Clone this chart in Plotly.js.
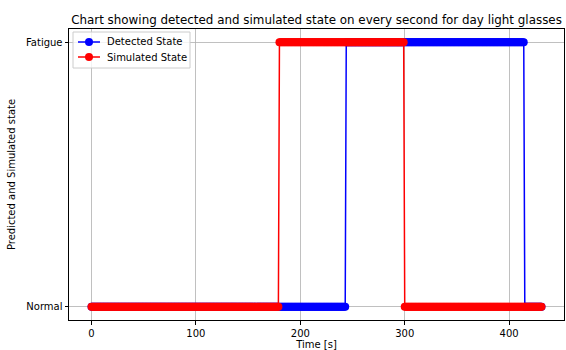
<!DOCTYPE html>
<html>
<head>
<meta charset="utf-8">
<script src="https://cdn.plot.ly/plotly-3.0.1.min.js"></script>
<style>
  html, body { margin: 0; padding: 0; background: #ffffff; }
  #chart { width: 566px; height: 350px; }
</style>
</head>
<body>
<div id="chart"></div>
<script>
// ---- data (state per second, stored as run-lengths) ----
const stateLabels = ['Normal', 'Fatigue'];
const lastSecond = 431;
const detectedChangeTimes = [0, 244, 415];
const detectedStates = ['Normal', 'Fatigue', 'Normal'];
const simulatedChangeTimes = [0, 180, 300];
const simulatedStates = ['Normal', 'Fatigue', 'Normal'];
const xTickValues = [0, 100, 200, 300, 400];
const seriesNames = ['Detected State', 'Simulated State'];
const seriesColors = ['#0000ff', '#ff0000'];

function expandRuns(changeTimes, states) {
  const t = [], s = [];
  for (let sec = 0; sec <= lastSecond; sec++) {
    let idx = 0;
    for (let k = 0; k < changeTimes.length; k++) if (sec >= changeTimes[k]) idx = k;
    t.push(sec);
    s.push(states[idx]);
  }
  return { t, s };
}

const detected = expandRuns(detectedChangeTimes, detectedStates);
const simulated = expandRuns(simulatedChangeTimes, simulatedStates);

const font = 'DejaVu Sans, sans-serif';
const pad = 0.05 * lastSecond;

const traces = [detected, simulated].map((d, i) => ({
  x: d.t, y: d.s, name: seriesNames[i],
  type: 'scatter', mode: 'lines+markers',
  line: { color: seriesColors[i], width: 1.5 },
  marker: { color: seriesColors[i], size: 8 },
  showlegend: false
}));

// plot-area geometry for the hand-drawn (matplotlib-like) legend
const W = 566, H = 350, mL = 69, mR = 2, mT = 29, mB = 30;
const pw = W - mL - mR, ph = H - mT - mB;
const px = v => (v - mL) / pw;
const py = v => (H - mB - v) / ph;

const shapes = [{
  type: 'rect', xref: 'paper', yref: 'paper', layer: 'above',
  x0: px(73), x1: px(190), y0: py(68), y1: py(32),
  fillcolor: 'rgba(255,255,255,0.8)', line: { color: '#cccccc', width: 1 }
}];
const annotations = [];
seriesNames.forEach((name, i) => {
  const yc = 42 + i * 15;
  shapes.push({
    type: 'line', xref: 'paper', yref: 'paper', layer: 'above',
    x0: px(78), x1: px(100), y0: py(yc), y1: py(yc),
    line: { color: seriesColors[i], width: 1.5 }
  });
  shapes.push({
    type: 'circle', xref: 'paper', yref: 'paper', layer: 'above',
    x0: px(85), x1: px(93), y0: py(yc + 4), y1: py(yc - 4),
    fillcolor: seriesColors[i], line: { color: seriesColors[i], width: 0 }
  });
  annotations.push({
    text: name, xref: 'paper', yref: 'paper', x: px(105), y: py(yc),
    xanchor: 'left', yanchor: 'middle', showarrow: false,
    font: { family: font, size: 10, color: '#000000' }
  });
});

const layout = {
  width: W, height: H,
  margin: { l: mL, r: mR, t: mT, b: mB, pad: 0 },
  paper_bgcolor: '#ffffff', plot_bgcolor: '#ffffff',
  font: { family: font, size: 10, color: '#000000' },
  title: {
    text: 'Chart showing detected and simulated state on every second for day light glasses',
    font: { family: font, size: 11.9, color: '#000000' },
    x: 0.5, xref: 'paper', xanchor: 'center',
    y: 1, yref: 'paper', yanchor: 'bottom', pad: { b: 5 }
  },
  xaxis: {
    range: [-pad, lastSecond + pad],
    tickvals: xTickValues, ticktext: xTickValues.map(String),
    showgrid: true, gridcolor: '#b0b0b0', gridwidth: 0.8,
    zeroline: false, showline: true, mirror: true, linecolor: '#000000', linewidth: 1,
    ticks: 'outside', ticklen: 3.5, tickwidth: 1, tickcolor: '#000000',
    tickfont: { family: font, size: 10 },
    title: { text: 'Time [s]', font: { family: font, size: 10 }, standoff: 3 }
  },
  yaxis: {
    type: 'category', categoryorder: 'array', categoryarray: stateLabels,
    range: [-0.05, 1.05],
    showgrid: true, gridcolor: '#b0b0b0', gridwidth: 0.8,
    zeroline: false, showline: true, mirror: true, linecolor: '#000000', linewidth: 1,
    ticks: 'outside', ticklen: 3.5, tickwidth: 1, tickcolor: '#000000',
    tickfont: { family: font, size: 10 },
    title: { text: 'Predicted and Simulated state', font: { family: font, size: 10 }, standoff: 8 }
  },
  showlegend: false,
  shapes: shapes,
  annotations: annotations
};

Plotly.newPlot('chart', traces, layout, { displayModeBar: false, staticPlot: true });
</script>
</body>
</html>
